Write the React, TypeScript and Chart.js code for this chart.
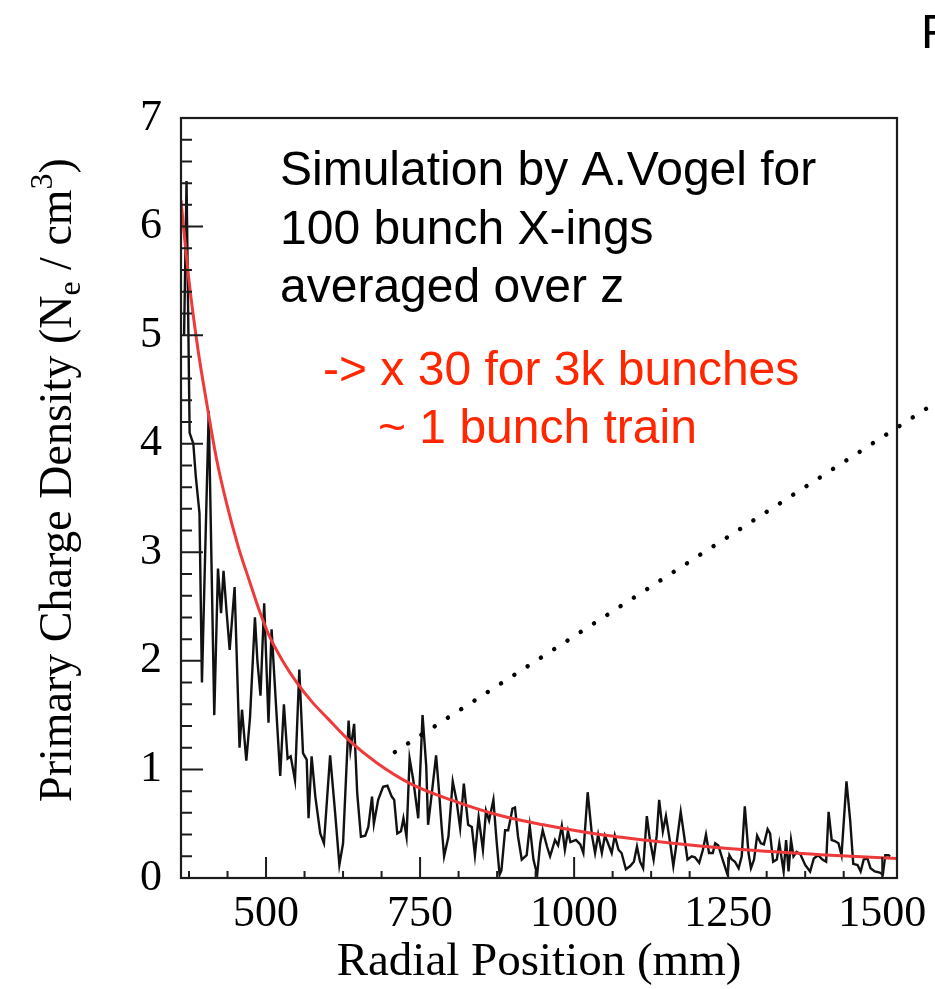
import React, { useEffect, useRef } from 'react';
import { Chart, registerables } from 'chart.js';

Chart.register(...registerables);

const SERIF = "'Liberation Serif', 'Times New Roman', serif";
const SANS = "'Liberation Sans', Arial, Helvetica, sans-serif";

// Simulated primary charge density per radial bin (mm, Ne/cm^3)
const radialMm = [
  367, 371, 376, 382, 386, 392, 396, 407, 416, 422,
  427, 431, 436, 441, 449, 457, 461, 468, 474, 482,
  486, 491, 497, 504, 509, 516, 523, 529, 535, 540,
  547, 554, 560, 566, 569, 574, 580, 588, 594, 604,
  612, 619, 625, 634, 637, 643, 648, 654, 661, 666,
  672, 675, 682, 690, 697, 704, 708, 713, 719, 723,
  728, 733, 739, 747, 754, 760, 763, 769, 776, 781,
  785, 789, 796, 803, 809, 815, 821, 828, 834, 839,
  845, 852, 857, 862, 869, 874, 879, 882, 888, 893,
  900, 904, 909, 915, 923, 928, 934, 940, 945, 949,
  956, 961, 969, 974, 980, 985, 990, 994, 1003, 1010,
  1015, 1022, 1029, 1034, 1039, 1045, 1050, 1055, 1061, 1066,
  1072, 1077, 1084, 1091, 1097, 1102, 1107, 1112, 1118, 1123,
  1129, 1134, 1138, 1144, 1149, 1156, 1161, 1167, 1173, 1178,
  1184, 1191, 1196, 1203, 1209, 1214, 1219, 1225, 1229, 1234,
  1241, 1249, 1252, 1256, 1261, 1267, 1272, 1277, 1283, 1287,
  1292, 1297, 1303, 1308, 1314, 1318, 1323, 1329, 1333, 1340,
  1344, 1348, 1352, 1356, 1361, 1367, 1375, 1383, 1389, 1396,
  1403, 1409, 1413, 1418, 1423, 1429, 1434, 1442, 1448, 1453,
  1460, 1465, 1470, 1476, 1481, 1488, 1496, 1501, 1505, 1510,
  1513,
];

const density = [
  5.0, 6.42, 4.1, 4.0, 3.7, 3.36, 1.8, 4.3, 1.5, 2.85,
  2.44, 2.83, 2.45, 2.1, 2.68, 1.2, 1.55, 1.08, 1.48, 2.4,
  2.0, 1.68, 2.53, 1.43, 2.29, 1.61, 0.94, 1.6, 1.1, 1.12,
  0.9, 1.92, 1.15, 1.09, 0.55, 1.12, 0.75, 0.41, 0.32, 1.13,
  0.61, 0.12, 0.32, 1.45, 1.18, 1.42, 0.78, 0.38, 0.39, 0.47,
  0.75, 0.5, 0.72, 0.84, 0.85, 0.75, 0.72, 0.41, 0.43, 0.55,
  0.38, 1.1, 0.9, 0.55, 1.5, 1.03, 0.49, 0.78, 1.13, 0.78,
  0.47, 0.2, 0.38, 0.89, 0.72, 0.46, 0.87, 0.49, 0.47, 0.21,
  0.56, 0.26, 0.62, 0.53, 0.72, 0.35, 0.03, 0.07, 0.44, 0.44,
  0.64, 0.65, 0.38, 0.17, 0.21, 0.48, 0.17, 0.03, 0.32, 0.44,
  0.29, 0.2, 0.35, 0.3, 0.48, 0.26, 0.43, 0.33, 0.35, 0.31,
  0.23, 0.79, 0.39, 0.23, 0.4, 0.23, 0.39, 0.32, 0.23, 0.39,
  0.26, 0.23, 0.08, 0.11, 0.15, 0.29, 0.15, 0.09, 0.57, 0.35,
  0.17, 0.39, 0.72, 0.43, 0.57, 0.32, 0.11, 0.35, 0.61, 0.41,
  0.17, 0.2, 0.19, 0.14, 0.26, 0.4, 0.23, 0.23, 0.32, 0.3,
  0.17, 0.03, 0.21, 0.17, 0.15, 0.09, 0.2, 0.66, 0.23, 0.09,
  0.17, 0.39, 0.32, 0.31, 0.45, 0.41, 0.15, 0.17, 0.32, 0.06,
  0.35, 0.06, 0.35, 0.2, 0.24, 0.22, 0.12, 0.06, 0.18, 0.21,
  0.17, 0.15, 0.61, 0.35, 0.34, 0.32, 0.21, 0.89, 0.53, 0.13,
  0.12, 0.06, 0.17, 0.18, 0.09, 0.06, 0.05, 0.03, 0.21, 0.21,
  0.2,
];

// Smooth fit through the density profile
const fitMm = [
  362, 375, 390, 400, 420, 436, 455, 474, 490, 506,
  528, 550, 575, 600, 636, 680, 734, 800, 880, 950,
  1031, 1120, 1204, 1300, 1400, 1524,
];
const fitDensity = [
  6.24, 5.5, 4.85, 4.5, 3.85, 3.45, 3.05, 2.72, 2.45, 2.22,
  1.99, 1.8, 1.62, 1.47, 1.26, 1.06, 0.87, 0.72, 0.575, 0.49,
  0.41, 0.345, 0.295, 0.25, 0.215, 0.18,
];

// Dotted pointer leaving the plot towards the upper right
const pointerMm = [709, 1590];
const pointerDensity = [1.16, 4.39];

const xTickValues = [500, 750, 1000, 1250, 1500];
const yTickValues = [0, 1, 2, 3, 4, 5, 6, 7];

const noteLines = ['Simulation by A.Vogel for', '100 bunch X-ings', 'averaged over z'];
const scaleLines = ['-> x 30 for 3k bunches', '~ 1 bunch train'];

const X_MIN = 362;
const X_MAX = 1524;

const frameAndNotes = {
  id: 'frameAndNotes',
  afterDraw(chart: any) {
    const { ctx, chartArea: area } = chart;
    const xs = chart.scales.x;
    const ys = chart.scales.y;
    ctx.save();

    // ROOT-style inward tick marks
    ctx.strokeStyle = '#1c1c1c';
    ctx.lineWidth = 2;
    ctx.beginPath();
    for (let v = 375; v <= X_MAX; v += 62.5) {
      const px = xs.getPixelForValue(v);
      const major = (v - 500) % 250 === 0;
      const len = major ? 21 : 7;
      ctx.moveTo(px, area.bottom);
      ctx.lineTo(px, area.bottom - len);
    }
    for (let i = 0; i <= 35; i++) {
      const py = ys.getPixelForValue(i * 0.2);
      const len = i % 5 === 0 ? 22 : 11;
      ctx.moveTo(area.left, py);
      ctx.lineTo(area.left + len, py);
    }
    ctx.stroke();
    ctx.lineWidth = 2.2;
    ctx.strokeRect(area.left, area.top, area.right - area.left, area.bottom - area.top);

    // annotation text
    ctx.textBaseline = 'alphabetic';
    ctx.textAlign = 'left';
    ctx.fillStyle = '#000';
    ctx.font = `48px ${SANS}`;
    ctx.fillText(noteLines[0], 280, 185);
    ctx.fillText(noteLines[1], 280, 244);
    ctx.fillText(noteLines[2], 280, 302);
    ctx.fillText('F', 921, 48);

    ctx.fillStyle = '#ff2600';
    ctx.font = `48px ${SANS}`;
    ctx.fillText(scaleLines[0], 323, 385);
    ctx.fillText(scaleLines[1], 378, 443);

    // rotated y-axis title with subscript / superscript
    const big = `46px ${SERIF}`;
    const small = `32px ${SERIF}`;
    const parts = [
      { t: 'Primary Charge Density (N', f: big, dy: 0 },
      { t: 'e', f: small, dy: 9 },
      { t: ' / cm', f: big, dy: 0 },
      { t: '3', f: small, dy: -19 },
      { t: ')', f: big, dy: 0 },
    ];
    let total = 0;
    for (const p of parts) {
      ctx.font = p.f;
      total += ctx.measureText(p.t).width;
    }
    ctx.translate(71, (area.top + area.bottom) / 2 - 18);
    ctx.rotate(-Math.PI / 2);
    ctx.fillStyle = '#000';
    let x = -total / 2;
    for (const p of parts) {
      ctx.font = p.f;
      ctx.fillText(p.t, x, p.dy);
      x += ctx.measureText(p.t).width;
    }
    ctx.restore();
  },
};

export default function App() {
  const canvasRef = useRef<HTMLCanvasElement>(null);

  useEffect(() => {
    const canvas = canvasRef.current;
    if (!canvas) return;

    const chart = new Chart(canvas, {
      type: 'scatter',
      data: {
        datasets: [
          {
            label: 'fit',
            data: fitMm.map((x, i) => ({ x, y: fitDensity[i] })),
            showLine: true,
            borderColor: '#ee3a3a',
            borderWidth: 3,
            pointRadius: 0,
            cubicInterpolationMode: 'monotone',
          },
          {
            label: 'pointer',
            data: pointerMm.map((x, i) => ({ x, y: pointerDensity[i] })),
            showLine: true,
            borderColor: '#000',
            borderWidth: 4.5,
            borderDash: [0.01, 15.8],
            borderCapStyle: 'round',
            pointRadius: 0,
            clip: false,
          },
          {
            label: 'density',
            data: radialMm.map((x, i) => ({ x, y: density[i] })),
            showLine: true,
            borderColor: '#111',
            borderWidth: 2.4,
            pointRadius: 0,
            tension: 0,
          },
        ],
      } as any,
      options: {
        responsive: false,
        animation: false,
        devicePixelRatio: 1,
        layout: { padding: { left: 0, top: 118, right: 38, bottom: 0 } },
        plugins: { legend: { display: false }, tooltip: { enabled: false } },
        scales: {
          x: {
            type: 'linear',
            min: X_MIN,
            max: X_MAX,
            grid: { display: false, drawTicks: false },
            border: { display: false },
            afterBuildTicks: (axis: any) => {
              axis.ticks = xTickValues.map((value) => ({ value }));
            },
            afterFit: (scale: any) => {
              scale.height = 111;
              scale.paddingLeft = 0;
              scale.paddingRight = 0;
            },
            ticks: {
              autoSkip: false,
              maxRotation: 0,
              padding: 10,
              color: '#000',
              font: { family: SERIF, size: 44 },
              callback: (v: any) => String(v),
            },
            title: {
              display: true,
              text: 'Radial Position (mm)',
              color: '#000',
              font: { family: SERIF, size: 47, lineHeight: 1.1 },
              padding: { top: 0, bottom: 0 },
            },
          },
          y: {
            type: 'linear',
            min: 0,
            max: 7,
            grid: { display: false, drawTicks: false },
            border: { display: false },
            afterBuildTicks: (axis: any) => {
              axis.ticks = yTickValues.map((value) => ({ value }));
            },
            afterFit: (scale: any) => {
              scale.width = 181;
              scale.paddingTop = 0;
              scale.paddingBottom = 0;
            },
            ticks: {
              padding: 19,
              color: '#000',
              font: { family: SERIF, size: 44 },
              callback: (v: any) => String(v),
            },
          },
        },
      } as any,
      plugins: [frameAndNotes],
    });

    return () => chart.destroy();
  }, []);

  return (
    <div style={{ position: 'absolute', left: 0, top: 0, width: 935, height: 989, background: '#fff' }}>
      <canvas ref={canvasRef} width={935} height={989} style={{ display: 'block', width: 935, height: 989 }} />
    </div>
  );
}
